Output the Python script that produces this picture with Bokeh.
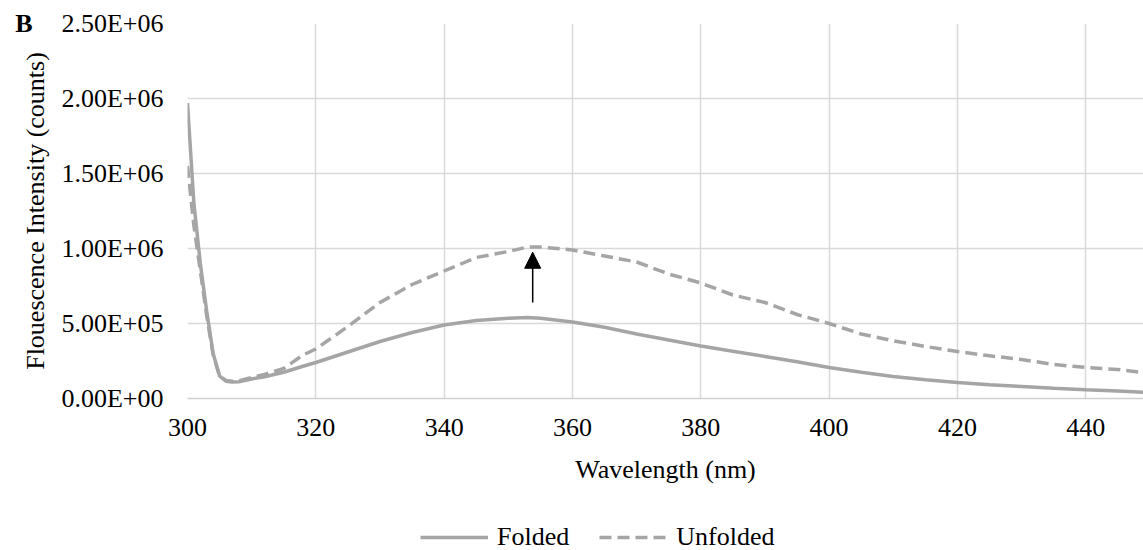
from bokeh.plotting import figure
from bokeh.models import (FixedTicker, Range1d, Legend, LegendItem, Arrow, NormalHead,
                          LinearAxis)
from bokeh.layouts import column
from bokeh.embed import file_html
from bokeh.resources import INLINE

# Data
wavelength_folded = [300, 301, 302, 303, 304, 305, 306, 307, 308, 310, 312, 315, 318, 320,
                     325, 330, 335, 340, 345, 350, 353, 355, 360, 365, 370, 375, 380, 385,
                     390, 395, 400, 405, 410, 415, 420, 425, 430, 435, 440, 445, 449]
folded = [1.97e6, 1.30e6, 0.90e6, 0.58e6, 0.30e6, 0.15e6, 0.115e6, 0.11e6, 0.112e6, 0.13e6,
          0.145e6, 0.175e6, 0.215e6, 0.24e6, 0.31e6, 0.38e6, 0.44e6, 0.49e6, 0.52e6, 0.535e6,
          0.54e6, 0.535e6, 0.51e6, 0.475e6, 0.43e6, 0.39e6, 0.35e6, 0.315e6, 0.28e6, 0.245e6,
          0.207e6, 0.175e6, 0.147e6, 0.125e6, 0.107e6, 0.092e6, 0.08e6, 0.068e6, 0.058e6,
          0.05e6, 0.042e6]

wavelength_unfolded = [300, 301, 302, 303, 304, 305, 306, 307, 308, 310, 312, 315, 318, 320,
                       325, 330, 335, 340, 345, 350, 353, 355, 360, 365, 370, 375, 380, 385,
                       390, 395, 400, 405, 410, 415, 420, 425, 430, 435, 440, 445, 449]
unfolded = [1.55e6, 1.15e6, 0.85e6, 0.55e6, 0.29e6, 0.15e6, 0.12e6, 0.115e6, 0.118e6, 0.14e6,
            0.16e6, 0.20e6, 0.29e6, 0.33e6, 0.48e6, 0.64e6, 0.76e6, 0.85e6, 0.94e6, 0.98e6,
            1.01e6, 1.01e6, 0.99e6, 0.95e6, 0.91e6, 0.83e6, 0.77e6, 0.69e6, 0.64e6, 0.56e6,
            0.50e6, 0.43e6, 0.385e6, 0.347e6, 0.313e6, 0.285e6, 0.26e6, 0.227e6, 0.207e6,
            0.193e6, 0.173e6]

series_names = ["Folded", "Unfolded"]
x_ticks = [300, 320, 340, 360, 380, 400, 420, 440]
y_ticks = [0, 500000, 1000000, 1500000, 2000000, 2500000]
y_tick_labels = ["0.00E+00", "5.00E+05", "1.00E+06", "1.50E+06", "2.00E+06", "2.50E+06"]
panel_letter = "B"

arrow_x = 353.8
arrow_y_start = 0.64e6
arrow_y_end = 0.975e6

FONT = "Liberation Serif"
LINE_COLOR = "#A5A5A5"
GRID_COLOR = "#D9D9D9"
DASH = "12 6"

p = figure(width=1143, height=495, output_backend="svg", toolbar_location=None,
           x_range=Range1d(300, 449), y_range=Range1d(0, 2.5e6),
           min_border_left=187, min_border_right=0, min_border_top=23, min_border_bottom=97)
p.outline_line_color = None
p.background_fill_color = "white"
p.border_fill_color = "white"

p.line(wavelength_folded, folded, line_color=LINE_COLOR, line_width=3.5)
p.line(wavelength_unfolded, unfolded, line_color=LINE_COLOR, line_width=3.5, line_dash=DASH)

# axes
p.xaxis.ticker = FixedTicker(ticks=x_ticks)
p.yaxis.ticker = FixedTicker(ticks=y_ticks)
p.yaxis.major_label_overrides = {t: l for t, l in zip(y_ticks, y_tick_labels)}
p.xaxis.major_label_overrides = {t: str(t) for t in x_ticks}

for ax in (p.xaxis, p.yaxis):
    ax.major_tick_line_color = None
    ax.minor_tick_line_color = None
    ax.major_tick_out = 0
    ax.minor_tick_out = 0
    ax.major_label_text_font = FONT
    ax.major_label_text_font_size = "26px"
    ax.major_label_text_color = "black"
    ax.axis_label_text_font = FONT
    ax.axis_label_text_font_size = "26px"
    ax.axis_label_text_font_style = "normal"
    ax.axis_label_text_color = "black"

p.yaxis.axis_line_color = None
p.xaxis.axis_line_color = "#D0D0D0"
p.xaxis.axis_line_width = 1.5
p.yaxis.major_label_standoff = 24
p.xaxis.major_label_standoff = 20
p.xaxis.axis_label = "Wavelength (nm)"
p.yaxis.axis_label = "Flouescence Intensity (counts)"
p.yaxis.axis_label_standoff = 8
p.xaxis.axis_label_standoff = 16

p.xgrid.grid_line_color = GRID_COLOR
p.ygrid.grid_line_color = GRID_COLOR
p.xgrid.grid_line_width = 1.5
p.ygrid.grid_line_width = 1.5

# panel letter "B" as an extra outer left axis with a single tick at the top
letter_axis = LinearAxis(ticker=FixedTicker(ticks=[y_ticks[-1]]),
                         major_label_overrides={y_ticks[-1]: panel_letter},
                         axis_line_color=None, major_tick_line_color=None,
                         minor_tick_line_color=None, major_tick_out=0, minor_tick_out=0,
                         major_label_standoff=-14,
                         major_label_text_font=FONT, major_label_text_font_size="26px",
                         major_label_text_font_style="bold", major_label_text_color="black")
p.add_layout(letter_axis, "left")

# arrow
p.add_layout(Arrow(end=NormalHead(size=16, fill_color="black", line_color="black"),
                   x_start=arrow_x, y_start=arrow_y_start, x_end=arrow_x, y_end=arrow_y_end,
                   line_color="black", line_width=1.5))

# legend strip under the chart (series drawn out of its view, only the legend shows)
pl = figure(width=1143, height=55, output_backend="svg", toolbar_location=None,
            x_range=Range1d(0, 1), y_range=Range1d(-1, 0),
            x_axis_location=None, y_axis_location=None, min_border=0,
            min_border_left=187, min_border_right=0)
pl.outline_line_color = None
pl.grid.visible = False
lr1 = pl.line(wavelength_folded, folded, line_color=LINE_COLOR, line_width=3.5)
lr2 = pl.line(wavelength_unfolded, unfolded, line_color=LINE_COLOR, line_width=3.5,
              line_dash=DASH)
legend = Legend(items=[LegendItem(label=series_names[0], renderers=[lr1]),
                       LegendItem(label=series_names[1], renderers=[lr2])],
                orientation="horizontal", location=(233, -2),
                label_text_font=FONT, label_text_font_size="26px",
                label_text_color="black", label_height=24,
                glyph_width=68, glyph_height=24, label_standoff=9, spacing=30,
                border_line_color=None, background_fill_alpha=0, padding=0, margin=0)
pl.add_layout(legend)

layout = column(p, pl, spacing=0)
open("out.html", "w").write(file_html(layout, INLINE))
